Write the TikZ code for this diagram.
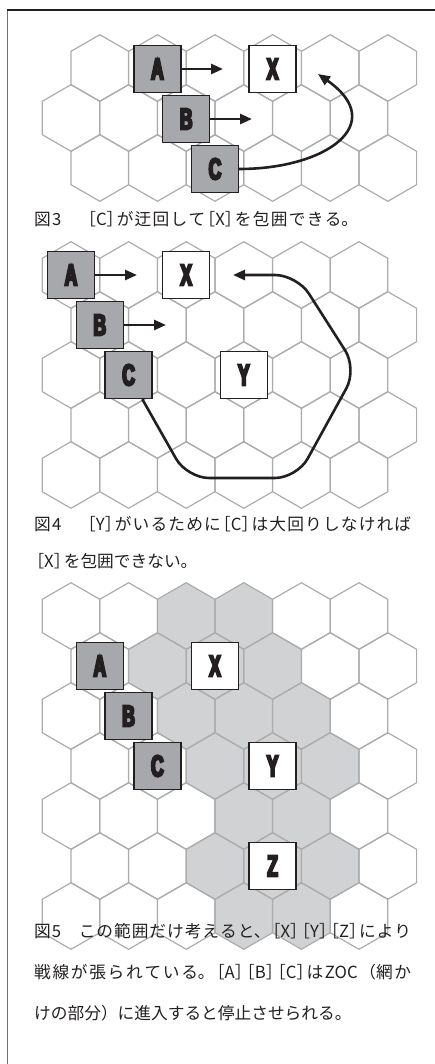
\documentclass[tikz,border=0pt]{standalone}
\usepackage{fontspec}
\setmainfont{Noto Sans CJK JP}
\newfontfamily\ctrfont{Liberation Sans}[FakeStretch=0.58, BoldFeatures={FakeBold=7}]
\usetikzlibrary{arrows.meta}
\XeTeXlinebreaklocale "ja"
\XeTeXlinebreakskip=0pt plus 3pt

\definecolor{hexline}{HTML}{ABACAE}
\definecolor{zocfill}{HTML}{D1D2D4}
\definecolor{unitfill}{HTML}{A6A8AB}
\definecolor{ink}{HTML}{231F20}
\definecolor{framegray}{HTML}{707070}

\newcommand{\hexr}{33.3}
\newcommand{\kakko}[1]{\hspace*{-.4em}［#1］\hspace*{-.4em}}

\tikzset{
  hexcell/.style={draw=hexline, line width=1.2pt, line join=round},
  zoc/.style={fill=zocfill},
  unit/.style={draw=ink, line width=1.4pt, minimum size=47pt, inner sep=0pt,
    text=ink, font=\ctrfont\bfseries\fontsize{30}{30}\selectfont},
  ours/.style={unit, fill=unitfill},
  theirs/.style={unit, fill=white},
  move/.style={draw=ink, line width=2.6pt, -{Triangle[length=12pt,width=10pt]}},
  note/.style={anchor=base west, inner sep=0pt, text=ink, text width=377pt,
    align=justify, font=\fontsize{16.7}{37}\selectfont},
}

\begin{document}
\begin{tikzpicture}[x=1pt,y=1pt]
\useasboundingbox (0,0) rectangle (435,-1064);

% frame
\draw[draw=framegray, line width=1.5pt] (7.5,-10) -- (7.5,-1064);
\draw[draw=ink, line width=1.2pt] (6.75,-10) -- (435,-10);

% ZOC of X, Y and Z (fig 5)
\foreach \y/\xo/\cols in {616/71/{2,3}, 666/99.8/{1,2,3}, 716/71/{2,3,4},
    766/99.8/{2,3,4}, 816/71/{3,4}, 866/99.8/{2,3,4}, 916/71/{3,4}} {
  \foreach \i in \cols {
    \fill[zoc] ({\xo+57.6*\i},-\y) +(90:\hexr) -- +(150:\hexr) -- +(210:\hexr)
      -- +(270:\hexr) -- +(330:\hexr) -- +(30:\hexr) -- cycle;
  }
}

% hex grids
\foreach \y/\xo in {68/99.8, 118/71, 168/99.8,
    275/71, 325/99.8, 375/71, 425/99.8, 475/71,
    616/71, 666/99.8, 716/71, 766/99.8, 816/71, 866/99.8, 916/71} {
  \foreach \i in {0,...,5} {
    \draw[hexcell] ({\xo+57.6*\i},-\y) +(90:\hexr) -- +(150:\hexr) -- +(210:\hexr)
      -- +(270:\hexr) -- +(330:\hexr) -- +(30:\hexr) -- cycle;
  }
}

% fig 3
\node[ours] (A3) at (157.4,-69) {A};
\node[theirs] (X3) at (272.6,-69) {X};
\node[ours] (B3) at (186.2,-119) {B};
\node[ours] (C3) at (215,-169) {C};
\coordinate (a3) at (223,-69);
\coordinate (b3) at (252,-119);
\coordinate (c3) at (318,-74);
\draw[move] (A3) -- (a3);
\draw[move] (B3) -- (b3);
\draw[move] (C3.east) to[out=0,in=-35,looseness=1.8] (c3);
\node[note, text width=324pt] (cap3) at (34,-226)
  {図3　［C］\hspace*{-.4em}が迂回して\kakko{X}を包囲できる。\linebreak};

% fig 4
\node[ours] (A4) at (71,-275) {A};
\node[theirs] (X4) at (186.2,-275) {X};
\node[ours] (B4) at (99.8,-325) {B};
\node[ours] (C4) at (128.6,-375) {C};
\node[theirs] (Y4) at (243.8,-375) {Y};
\coordinate (a4) at (137,-275);
\coordinate (b4) at (166,-325);
\coordinate (c4) at (233,-275);
\draw[move] (A4) -- (a4);
\draw[move] (B4) -- (b4);
\draw[move, rounded corners=22pt] (C4) -- (187,-478) -- (297,-478)
  -- (357,-369) -- (297,-275) -- (c4);
\node[note] (cap4) at (34,-530) {図4　［Y］\hspace*{-.4em}がいるために\kakko{C}は大回りしなければ\linebreak
  \kakko{X}を包囲できない。};

% fig 5
\node[ours] (A5) at (99.8,-666) {A};
\node[theirs] (X5) at (215,-666) {X};
\node[ours] (B5) at (128.6,-716) {B};
\node[ours] (C5) at (157.4,-766) {C};
\node[theirs] (Y5) at (272.6,-766) {Y};
\node[theirs] (Z5) at (272.6,-866) {Z};
\node[note, font=\fontsize{16.7}{41}\selectfont] (cap5) at (34,-937)
  {図5　この範囲だけ考えると、\kakko{X}\kakko{Y}\kakko{Z}により\linebreak
  戦線が張られている。\kakko{A}\kakko{B}\kakko{C}はZOC（網か\linebreak
  けの部分）に進入すると停止させられる。};
\end{tikzpicture}
\end{document}
